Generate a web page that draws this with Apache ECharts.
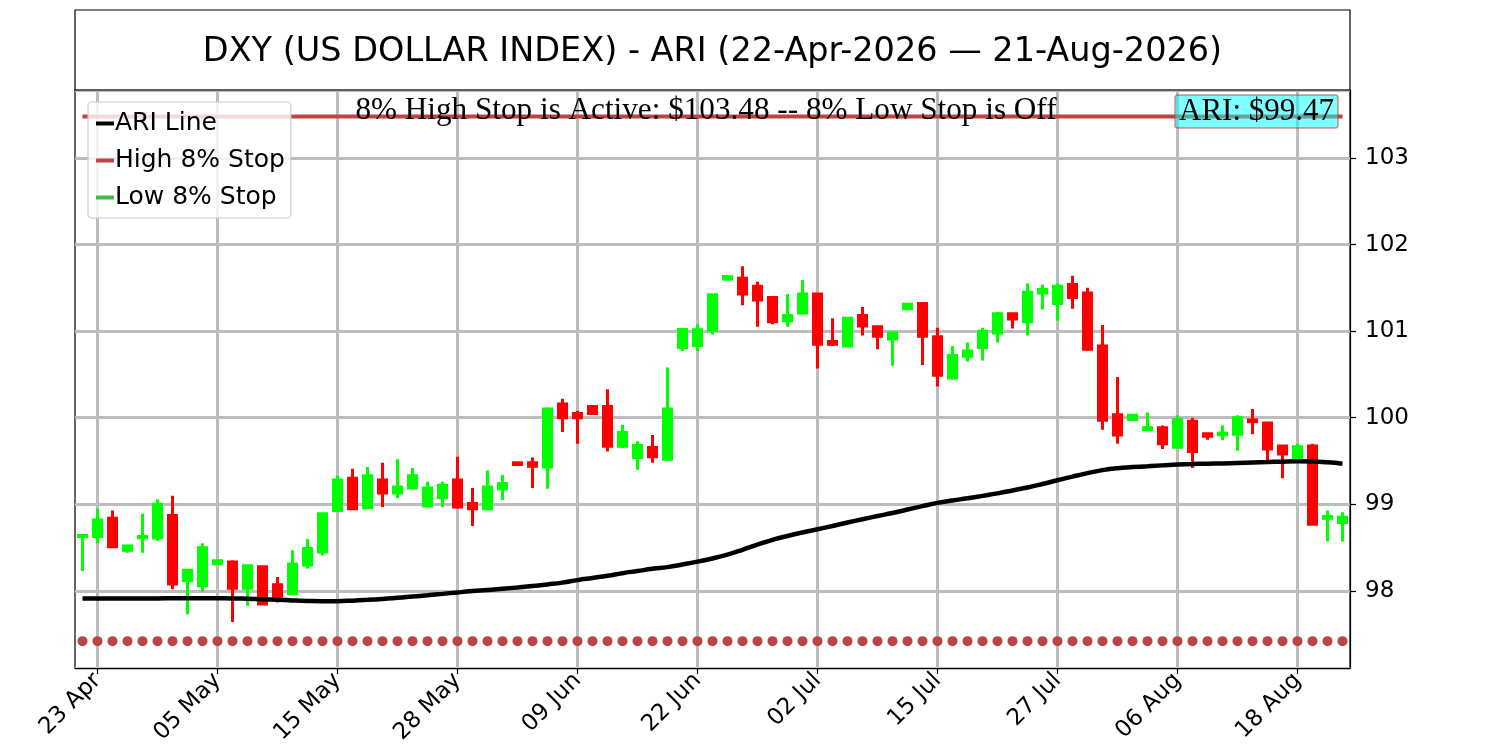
<!DOCTYPE html>
<html><head><meta charset="utf-8">
<script src="https://cdn.jsdelivr.net/npm/echarts@6/dist/echarts.min.js"></script>
<style>html,body{margin:0;padding:0;background:#fff}#c{width:1500px;height:750px}</style>
</head><body><div id="c"></div>
<script>
const dates = ['22 Apr','23 Apr','24 Apr','27 Apr','28 Apr','29 Apr','30 Apr','01 May','04 May','05 May',
'06 May','07 May','08 May','11 May','12 May','13 May','14 May','15 May','18 May','19 May',
'20 May','21 May','22 May','26 May','27 May','28 May','29 May','01 Jun','02 Jun','03 Jun',
'04 Jun','05 Jun','08 Jun','09 Jun','10 Jun','11 Jun','12 Jun','15 Jun','16 Jun','17 Jun',
'18 Jun','22 Jun','23 Jun','24 Jun','25 Jun','26 Jun','29 Jun','30 Jun','01 Jul','02 Jul',
'06 Jul','07 Jul','08 Jul','09 Jul','10 Jul','13 Jul','14 Jul','15 Jul','16 Jul','17 Jul',
'20 Jul','21 Jul','22 Jul','23 Jul','24 Jul','27 Jul','28 Jul','29 Jul','30 Jul','31 Jul',
'03 Aug','04 Aug','05 Aug','06 Aug','07 Aug','10 Aug','11 Aug','12 Aug','13 Aug','14 Aug',
'17 Aug','18 Aug','19 Aug','20 Aug','21 Aug'];
const opens = [98.63,98.63,98.84,98.47,98.615,98.61,98.87,98.12,98.06,98.315,
98.335,98.03,98.28,98.07,97.97,98.30,98.45,98.93,99.30,98.96,
99.28,99.13,99.19,98.98,99.08,99.28,99.01,98.95,99.18,99.48,
99.48,99.43,100.16,100.05,100.13,100.13,99.67,99.54,99.655,99.52,
100.81,100.835,101.01,101.60,101.61,101.52,101.39,101.12,101.21,101.43,
100.88,100.83,101.18,101.05,100.91,101.26,101.32,100.935,100.46,100.71,
100.81,100.98,101.20,101.11,101.44,101.32,101.54,101.44,100.83,100.035,
99.98,99.865,99.885,99.66,99.96,99.815,99.805,99.81,99.975,99.94,
99.675,99.54,99.675,98.84,98.79];
const closes = [98.64,98.82,98.51,98.52,98.63,99.00,98.08,98.24,98.50,98.35,
98.03,98.29,97.85,97.94,98.31,98.49,98.89,99.28,98.95,99.33,
99.13,99.20,99.33,99.19,99.22,98.97,98.95,99.20,99.24,99.46,
99.44,100.10,100.00,100.00,100.05,99.67,99.83,99.68,99.55,100.10,
101.02,101.015,101.42,101.63,101.43,101.36,101.11,101.18,101.43,100.85,
100.85,101.15,101.06,100.94,100.98,101.31,100.94,100.49,100.72,100.77,
101.00,101.20,101.14,101.45,101.48,101.52,101.39,100.79,99.97,99.80,
100.03,99.885,99.70,99.98,99.61,99.785,99.825,100.00,99.955,99.64,
99.58,99.665,98.77,98.86,98.85];
const lows = [98.23,98.55,98.51,98.44,98.44,98.58,98.02,97.73,97.99,98.315,
97.64,97.83,97.85,97.865,97.97,98.26,98.41,98.93,98.95,98.96,
98.97,99.07,99.19,98.98,98.97,98.95,98.75,98.93,99.05,99.46,
99.19,99.18,99.835,99.70,100.05,99.61,99.65,99.40,99.48,99.50,
100.77,100.77,100.96,101.60,101.30,101.05,101.08,101.05,101.19,100.57,
100.83,100.81,100.95,100.79,100.60,101.26,100.61,100.36,100.44,100.65,
100.66,100.87,101.03,100.95,101.25,101.12,101.26,100.77,99.86,99.70,
99.98,99.845,99.64,99.66,99.42,99.745,99.74,99.62,99.81,99.48,
99.30,99.54,98.77,98.57,98.57];
const highs = [98.64,98.95,98.93,98.52,98.89,99.06,99.10,98.25,98.55,98.35,
98.355,98.30,98.29,98.16,98.47,98.60,98.91,99.33,99.41,99.43,
99.48,99.52,99.42,99.26,99.26,99.55,99.19,99.39,99.34,99.48,
99.54,100.12,100.22,100.08,100.13,100.33,99.92,99.73,99.80,100.58,
101.02,101.08,101.43,101.63,101.75,101.57,101.40,101.43,101.59,101.43,
101.15,101.15,101.28,101.05,101.00,101.31,101.33,101.04,100.83,100.87,
101.04,101.22,101.20,101.55,101.54,101.55,101.64,101.50,101.07,100.47,
100.03,100.06,99.91,100.03,100.00,99.815,99.91,100.03,100.10,99.94,
99.675,99.70,99.70,98.93,98.91];
const ariLine = [97.912,97.912,97.913,97.913,97.914,97.914,97.915,97.915,97.915,97.915,
97.914,97.910,97.905,97.898,97.890,97.884,97.881,97.882,97.888,97.897,
97.908,97.920,97.935,97.950,97.966,97.983,97.998,98.010,98.025,98.040,
98.056,98.075,98.096,98.125,98.150,98.175,98.205,98.230,98.255,98.275,
98.305,98.338,98.375,98.420,98.475,98.535,98.590,98.635,98.675,98.712,
98.750,98.790,98.828,98.865,98.900,98.940,98.980,99.017,99.045,99.070,
99.098,99.127,99.160,99.195,99.235,99.278,99.320,99.360,99.395,99.418,
99.430,99.440,99.450,99.460,99.465,99.470,99.473,99.478,99.483,99.488,
99.493,99.497,99.495,99.485,99.470];
const highStop = 103.48;
const lowStopMarker = 97.42;
const ariValue = 99.47;
const xLabelIdx = [1,9,17,25,33,41,49,57,65,73,81];
const yMin = 97.11, yMax = 103.785;

const GRID = '#bdbdbd', UP = '#00ff00', DOWN = '#ff0000', STOPRED = '#bc4444', STOPGREEN = '#44bb44';
const SANS = 'DejaVu Sans';
const showIdx = (i) => xLabelIdx.indexOf(i) >= 0;

const chart = echarts.init(document.getElementById('c'), null, {renderer: 'canvas'});
chart.setOption({
  animation: false,
  backgroundColor: '#fff',
  grid: {left: 75, right: 150, top: 90, bottom: 82, containLabel: false, show: true, borderColor: '#000', borderWidth: 1.2},
  legend: {
    orient: 'vertical', left: 88, top: 102, icon: 'rect', itemWidth: 18, itemHeight: 4, itemGap: 12,
    padding: [9, 6, 8, 8], borderColor: '#cccccc', borderWidth: 1.2, borderRadius: 4,
    backgroundColor: 'rgba(255,255,255,0.8)',
    textStyle: {fontFamily: SANS, fontSize: 25, color: '#000', padding: [0, 0, 0, -4]},
    data: [
      {name: 'ARI Line', itemStyle: {color: '#000'}},
      {name: 'High 8% Stop', itemStyle: {color: STOPRED}},
      {name: 'Low 8% Stop', itemStyle: {color: STOPGREEN}}
    ],
    selectedMode: false, z: 20
  },
  xAxis: {
    type: 'category', data: dates, boundaryGap: true,
    axisLine: {show: true, lineStyle: {color: '#000', width: 1.2}},
    axisTick: {show: true, interval: showIdx, alignWithLabel: true, length: 6, lineStyle: {color: '#000', width: 1.2}},
    axisLabel: {interval: showIdx, rotate: 45, fontFamily: SANS, fontSize: 23, color: '#000', margin: 9},
    splitLine: {show: true, interval: showIdx, alignWithLabel: true, lineStyle: {color: GRID, width: 3}}
  },
  yAxis: {
    type: 'value', position: 'right', min: yMin, max: yMax, splitNumber: 6, scale: true,
    axisLine: {show: true, lineStyle: {color: '#000', width: 1.2}},
    axisTick: {show: true, length: 6, lineStyle: {color: '#000', width: 1.2}},
    axisLabel: {fontFamily: SANS, fontSize: 23, color: '#000', margin: 15, showMinLabel: false, showMaxLabel: false,
      formatter: (v) => Math.abs(v - Math.round(v)) < 1e-6 ? String(Math.round(v)) : ''},
    splitLine: {show: true, lineStyle: {color: GRID, width: 3}}
  },
  series: [
    {
      name: 'High 8% Stop', type: 'line', data: dates.map(() => highStop), symbol: 'none',
      lineStyle: {color: STOPRED, width: 4}, itemStyle: {color: STOPRED}, z: 3, silent: true
    },
    {
      name: 'Low 8% Stop', type: 'scatter', data: dates.map(() => lowStopMarker), symbol: 'circle', symbolSize: 10,
      itemStyle: {color: STOPRED, opacity: 1}, z: 3, silent: true
    },
    {
      name: 'DXY', type: 'candlestick', barWidth: 8,
      data: dates.map((d, i) => [opens[i], closes[i], lows[i], highs[i]]),
      itemStyle: {color: UP, color0: DOWN, borderColor: UP, borderColor0: DOWN, borderWidth: 3},
      z: 4, silent: true
    },
    {
      name: 'ARI Line', type: 'line', data: ariLine, symbol: 'none', smooth: true,
      lineStyle: {color: '#000', width: 4.5}, itemStyle: {color: '#000'}, z: 5, silent: true
    }
  ],
  graphic: [
    {type: 'rect', shape: {x: 75, y: 10, width: 1275, height: 80}, style: {fill: 'none', stroke: '#000', lineWidth: 1.2}, z: 30},
    {type: 'text', x: 712.5, y: 52, style: {text: 'DXY (US DOLLAR INDEX) - ARI (22-Apr-2026 \u2014 21-Aug-2026)',
      font: '33.5px "DejaVu Sans"', fill: '#000', textAlign: 'center', textVerticalAlign: 'middle'}, z: 30},
    {type: 'text', x: 706, y: 111, style: {text: '8% High Stop is Active: $' + highStop.toFixed(2) + ' -- 8% Low Stop is Off',
      font: '31.2px "Liberation Serif"', fill: '#000', textAlign: 'center', textVerticalAlign: 'middle'}, z: 30},
    {type: 'rect', shape: {x: 1175, y: 95, width: 163, height: 33, r: 3},
      style: {fill: 'rgba(0,255,255,0.5)', stroke: 'rgba(185,68,68,0.6)', lineWidth: 1.5}, z: 30},
    {type: 'text', x: 1256.5, y: 112, style: {text: 'ARI: $' + ariValue.toFixed(2),
      font: '31px "Liberation Serif"', fill: '#000', textAlign: 'center', textVerticalAlign: 'middle'}, z: 31}
  ]
});
</script></body></html>
